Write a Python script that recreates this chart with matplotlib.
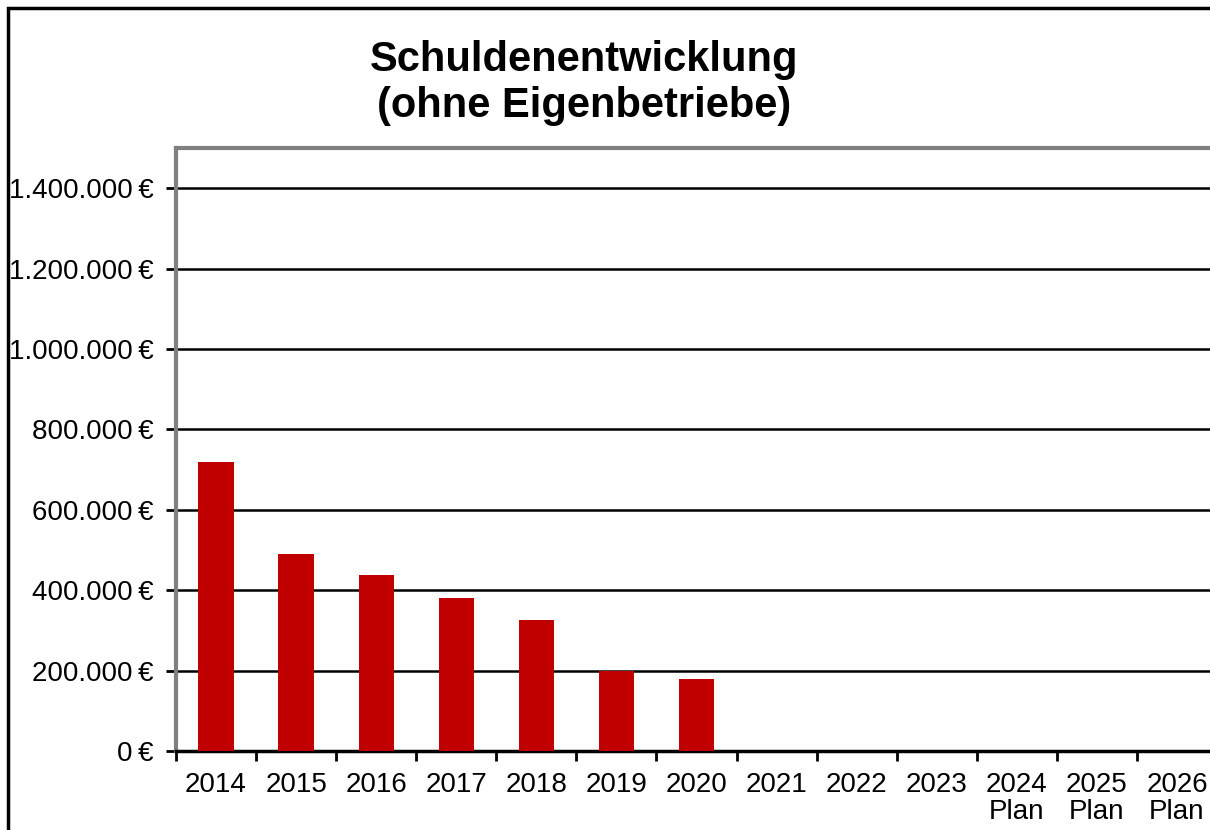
import matplotlib
matplotlib.use("Agg")
import matplotlib.pyplot as plt
from matplotlib.patches import Rectangle
from matplotlib.ticker import FuncFormatter, MultipleLocator

plt.rcParams['font.family'] = ['Liberation Sans', 'DejaVu Sans']

categories = ["2014", "2015", "2016", "2017", "2018", "2019", "2020",
              "2021", "2022", "2023", "2024\nPlan", "2025\nPlan", "2026\nPlan"]
schulden = [720000, 491000, 437000, 380000, 327000, 200000, 180000,
            0, 0, 0, 0, 0, 0]
title = "Schuldenentwicklung\n(ohne Eigenbetriebe)"

W, H = 1210, 830
fig = plt.figure(figsize=(W / 100, H / 100), dpi=100)

# figure frame (only left/top edges visible in the reference)
fig.patches.append(Rectangle((8 / W, -0.2), 1.5, 1.2 - 8 / H,
                             transform=fig.transFigure, fill=False,
                             edgecolor='black', linewidth=2.5, zorder=0))

ax = fig.add_axes([176 / W, (H - 751) / H, 1041 / W, (751 - 148) / H])

x = list(range(len(categories)))
ax.bar(x, schulden, width=0.44, color='#C00000', zorder=3)

ax.set_xlim(-0.5, len(categories) - 0.5)
ax.set_ylim(0, 1500000)
ax.yaxis.set_major_locator(MultipleLocator(200000))
ax.yaxis.set_major_formatter(FuncFormatter(
    lambda v, p: f"{int(v):,}".replace(",", ".") + "\u2009€"))
ax.grid(axis='y', color='black', linewidth=1.8, zorder=1)
ax.set_axisbelow(True)

ax.set_xticks([i + 0.5 for i in range(-1, len(categories))])
ax.set_xticklabels([])
ax.set_xticks(x, minor=True)
ax.set_xticklabels(categories, minor=True, linespacing=1.05)
ax.tick_params(axis='x', which='minor', length=0, pad=15, labelsize=20)
ax.tick_params(axis='x', which='major', direction='out', length=7, width=2,
               color='black')
ax.tick_params(axis='y', direction='out', length=7, width=2, color='black',
               pad=9, labelsize=20)

for s in ['left', 'top']:
    ax.spines[s].set_color('#808080')
    ax.spines[s].set_linewidth(3)
ax.spines['bottom'].set_color('black')
ax.spines['bottom'].set_linewidth(2.5)
ax.spines['right'].set_visible(False)

fig.text(584 / W, 1 - 83 / H, title, ha='center', va='center',
         fontsize=30, fontweight='bold', linespacing=1.2)

fig.savefig("out.png", dpi=100)
